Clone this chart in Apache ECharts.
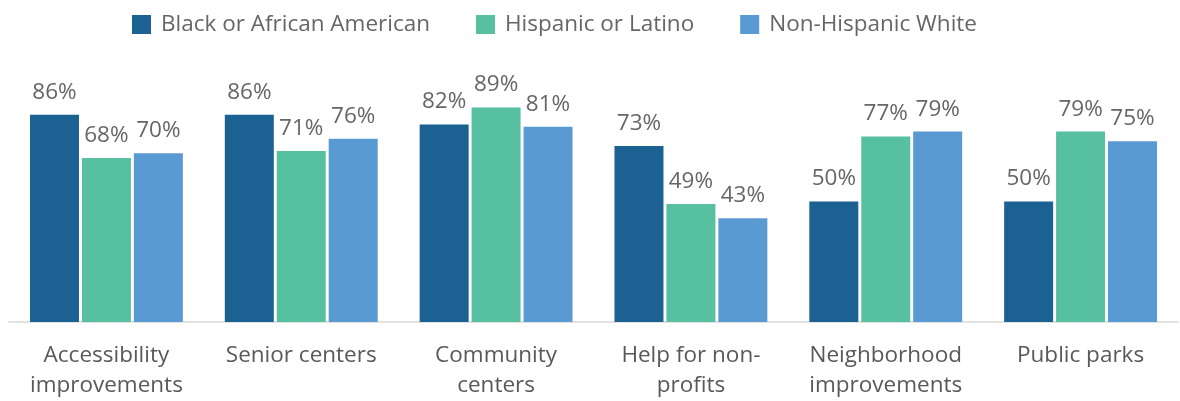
<!DOCTYPE html>
<html>
<head>
<meta charset="utf-8">
<script src="https://cdn.jsdelivr.net/npm/echarts@6/dist/echarts.min.js"></script>
<style>
  html, body { margin: 0; padding: 0; background: #ffffff; }
  #chart { width: 1180px; height: 401px; }
</style>
</head>
<body>
<div id="chart"></div>
<script>
// Share of respondents supporting each type of investment, by group (%)
const categories = [
  'Accessibility\nimprovements',
  'Senior centers',
  'Community\ncenters',
  'Help for non-\nprofits',
  'Neighborhood\nimprovements',
  'Public parks'
];
const seriesNames = ['Black or African American', 'Hispanic or Latino', 'Non-Hispanic White'];
const blackValues    = [86, 86, 82, 73, 50, 50];
const hispanicValues = [68, 71, 89, 49, 77, 79];
const whiteValues    = [70, 76, 81, 43, 79, 75];

const colors = ['#1b6192', '#57c0a0', '#5a9ad3'];
const FONT = '"Open Sans", "Noto Sans", sans-serif';
const TEXT_SIZE = 22.5;

const chart = echarts.init(document.getElementById('chart'), null, { renderer: 'canvas' });

function barSeries(name, data, color) {
  return {
    name: name,
    type: 'bar',
    data: data,
    barWidth: 49,
    barGap: '6%',
    itemStyle: { color: color },
    label: {
      show: true,
      position: 'top',
      distance: 11,
      formatter: '{c}%',
      color: '#666666',
      fontFamily: FONT,
      fontSize: TEXT_SIZE
    },
    emphasis: { disabled: true }
  };
}

chart.setOption({
  animation: false,
  color: colors,
  legend: {
    top: 13,
    left: 132,
    padding: 0,
    itemWidth: 19,
    itemHeight: 19,
    itemGap: 46,
    icon: 'rect',
    textStyle: {
      color: '#666666',
      fontFamily: FONT,
      fontSize: TEXT_SIZE,
      padding: [0, 0, 0, 5]
    },
    data: seriesNames
  },
  grid: {
    left: 9,
    right: 2,
    top: 81,
    bottom: 78,
    containLabel: false
  },
  xAxis: {
    type: 'category',
    data: categories,
    axisTick: { show: false },
    axisLine: { lineStyle: { color: '#d9d9d9', width: 1.5 } },
    axisLabel: {
      color: '#595959',
      fontFamily: FONT,
      fontSize: TEXT_SIZE,
      lineHeight: 30,
      margin: 19,
      interval: 0
    }
  },
  yAxis: {
    type: 'value',
    min: 0,
    max: 100,
    show: false,
    splitLine: { show: false }
  },
  series: [
    barSeries(seriesNames[0], blackValues, colors[0]),
    barSeries(seriesNames[1], hispanicValues, colors[1]),
    barSeries(seriesNames[2], whiteValues, colors[2])
  ]
});
</script>
</body>
</html>
